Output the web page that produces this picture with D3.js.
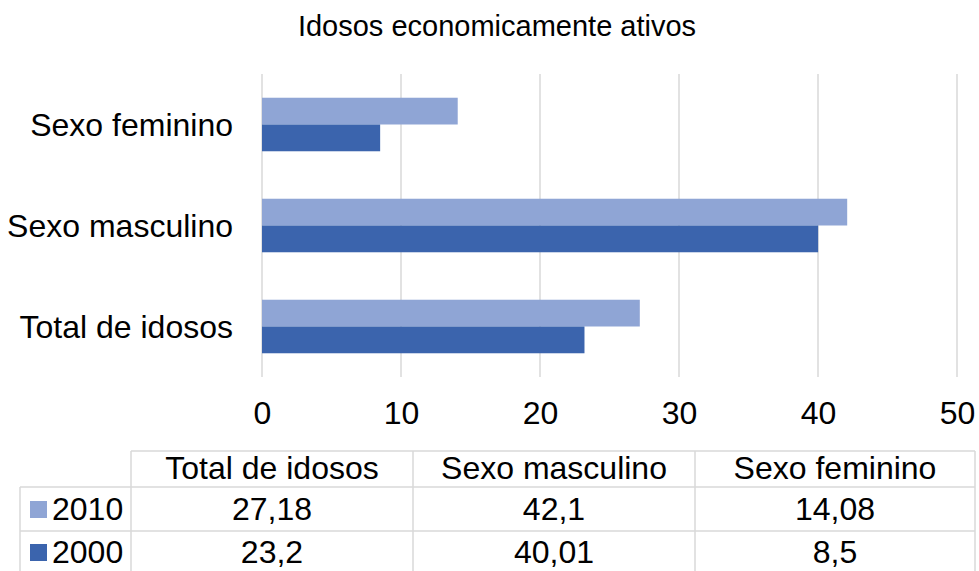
<!DOCTYPE html>
<html><head><meta charset="utf-8">
<script src="https://cdn.jsdelivr.net/npm/d3@7"></script>
<style>body{margin:0;background:#fff}text{font-family:"Liberation Sans",Arial,sans-serif}</style>
</head><body>
<svg id="c" width="979" height="571"></svg>
<script>
const categories = ["Total de idosos", "Sexo masculino", "Sexo feminino"];
const series = ["2010", "2000"];
const values2010 = [27.18, 42.1, 14.08];
const values2000 = [23.2, 40.01, 8.5];
const labels2010 = ["27,18", "42,1", "14,08"];
const labels2000 = ["23,2", "40,01", "8,5"];
const xTicks = [0, 10, 20, 30, 40, 50];
const title = "Idosos economicamente ativos";
const colors = {"2010": "#8FA5D5", "2000": "#3B64AD"};

const FS = 32;
const svg = d3.select("#c");
const grid = "#d9d9d9";
const ff = '"Liberation Sans",Arial,sans-serif';

svg.append("text").attr("x", 497).attr("y", 26).attr("dy", "0.35em").attr("text-anchor", "middle")
  .attr("font-size", 29).attr("fill", "#000").text(title);

const x = d3.scaleLinear().domain([0, 50]).range([262, 957]);
const yOrder = categories.slice().reverse();
const y = d3.scaleBand().domain(yOrder).range([74, 377]).paddingInner(0.47).paddingOuter(0.235);
const ySub = d3.scaleBand().domain(series).range([0, y.bandwidth()]);

svg.append("g").selectAll("line").data(xTicks).join("line")
  .attr("x1", d => x(d)).attr("x2", d => x(d)).attr("y1", 74).attr("y2", 377)
  .attr("stroke", grid).attr("stroke-width", 1.5);

const data = [];
categories.forEach((c, i) => {
  data.push({c, s: "2010", v: values2010[i]});
  data.push({c, s: "2000", v: values2000[i]});
});
svg.append("g").selectAll("rect").data(data).join("rect")
  .attr("x", x(0)).attr("y", d => y(d.c) + ySub(d.s))
  .attr("width", d => x(d.v) - x(0)).attr("height", ySub.bandwidth())
  .attr("fill", d => colors[d.s]);

const xAxis = d3.axisBottom(x).tickValues(xTicks).tickSize(0).tickPadding(0);
const gx = svg.append("g").attr("transform", "translate(0,413)").call(xAxis).attr("font-size", null).attr("font-family", null);
gx.select(".domain").remove();
gx.selectAll("text").attr("y", 0).attr("dy", "0.35em").attr("fill", "#000")
  .style("font-size", FS + "px").style("font-family", ff);

const yAxis = d3.axisLeft(y).tickSize(0).tickPadding(0);
const gy = svg.append("g").attr("transform", "translate(233,0)").call(yAxis).attr("font-size", null).attr("font-family", null);
gy.select(".domain").remove();
gy.selectAll("text").attr("dy", "0.35em").attr("fill", "#000")
  .style("font-size", FS + "px").style("font-family", ff);

const colX = [131, 413, 695, 975];
const rowY = [451, 487, 531, 575];
const t = svg.append("g");
const tl = (x1, y1, x2, y2) => t.append("line").attr("x1", x1).attr("y1", y1).attr("x2", x2).attr("y2", y2)
  .attr("stroke", grid).attr("stroke-width", 1.5);
tl(colX[0], rowY[0], colX[3], rowY[0]);
tl(20, rowY[1], colX[3], rowY[1]);
tl(20, rowY[2], colX[3], rowY[2]);
tl(20, rowY[1], 20, rowY[3]);
colX.forEach(cx => tl(cx, rowY[0], cx, rowY[3]));

const rowC = [468, 509, 552];
categories.forEach((c, i) => {
  const cx = (colX[i] + colX[i + 1]) / 2;
  [c, labels2010[i], labels2000[i]].forEach((txt, r) => {
    t.append("text").attr("x", cx).attr("y", rowC[r]).attr("dy", "0.35em")
      .attr("text-anchor", "middle").style("font-size", FS + "px").text(txt);
  });
});
series.forEach((s, j) => {
  const cy = rowC[j + 1];
  t.append("rect").attr("x", 30).attr("y", cy - 8).attr("width", 17).attr("height", 17).attr("fill", colors[s]);
  t.append("text").attr("x", 52).attr("y", cy).attr("dy", "0.35em").style("font-size", FS + "px").text(s);
});
</script>
</body></html>
